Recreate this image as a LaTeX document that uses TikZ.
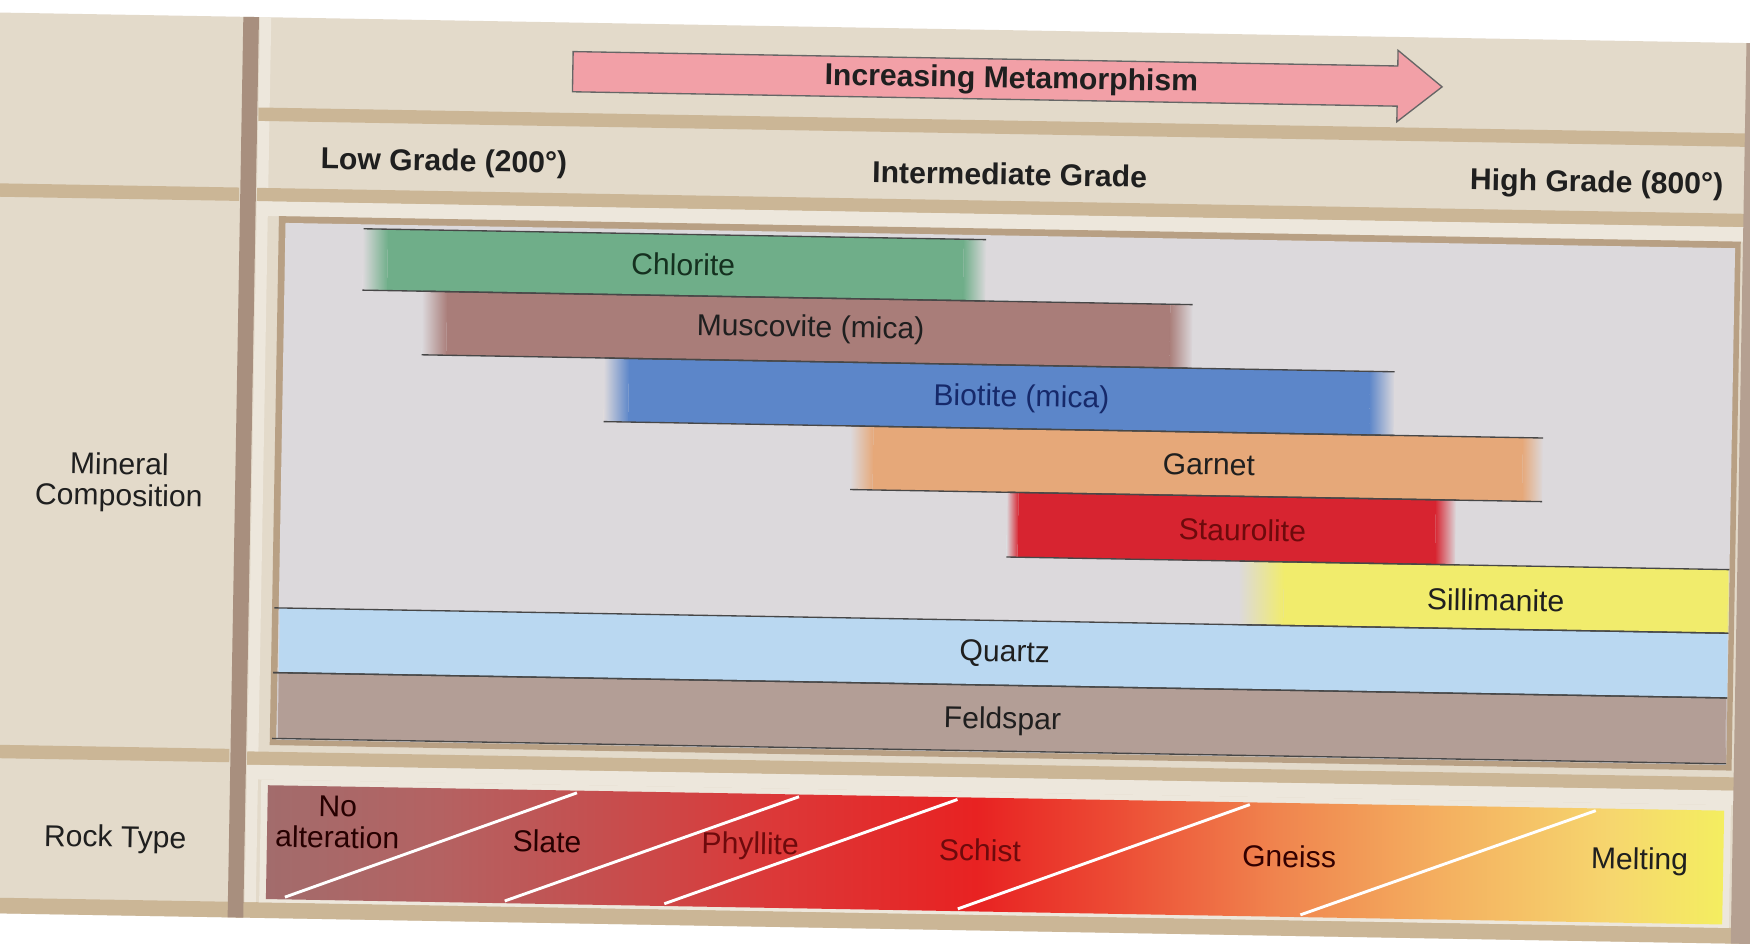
\documentclass[tikz,border=0pt]{standalone}
\usepackage{fontspec}
\setmainfont{Liberation Sans}
\definecolor{paper}{HTML}{E3DACA}
\definecolor{paperlight}{HTML}{EDE7DC}
\definecolor{divtan}{HTML}{CBB696}
\definecolor{vdiv}{HTML}{A88F7E}
\definecolor{panelbg}{HTML}{DCD9DC}
\definecolor{panelframe}{HTML}{B8A084}
\definecolor{chlor}{HTML}{6FAE89}
\definecolor{musc}{HTML}{A97D79}
\definecolor{biot}{HTML}{5C86C9}
\definecolor{garn}{HTML}{E6A879}
\definecolor{staur}{HTML}{D72430}
\definecolor{sill}{HTML}{F1EC6C}
\definecolor{quartz}{HTML}{BAD8F1}
\definecolor{felds}{HTML}{B39E96}
\definecolor{arrowpink}{HTML}{F2A0A7}
\definecolor{darkred}{HTML}{6E0A0C}
\definecolor{navy}{HTML}{16296A}
\definecolor{dkgreen}{HTML}{15301F}
\definecolor{r0}{HTML}{A26C6C}
\definecolor{r1}{HTML}{B46262}
\definecolor{r2}{HTML}{C64E4E}
\definecolor{r3}{HTML}{DC3838}
\definecolor{r4}{HTML}{E82222}
\definecolor{r5}{HTML}{EC4A34}
\definecolor{r6}{HTML}{F0844E}
\definecolor{r7}{HTML}{F4B060}
\definecolor{r8}{HTML}{F6D66E}
\definecolor{r9}{HTML}{F4EE60}
\pgfdeclarehorizontalshading{rockshade}{100bp}{color(0bp)=(r0); color(25bp)=(r0); color(30.95bp)=(r1); color(36.7bp)=(r2); color(42.45bp)=(r3); color(49.35bp)=(r4); color(53.95bp)=(r5); color(59.65bp)=(r6); color(65.4bp)=(r7); color(71.15bp)=(r8); color(75bp)=(r9); color(100bp)=(r9)}
\tikzset{
  lbl/.style={font=\fontsize{13.5}{14}\selectfont, inner sep=0pt, anchor=center, text=black!88},
  hdr/.style={lbl, font=\fontsize{13.5}{14}\selectfont\bfseries},
  barline/.style={draw=black!72, line width=0.6pt},
  whiteline/.style={draw=white, line width=1.3pt},
}
% \mbar{L}{R}{T}{B}{colour}{fade left}{fade right}
\newcommand\mbar[7]{%
  \fill[#5] (#1+#6,#3) rectangle (#2-#7,#4);
  \shade[left color=panelbg, right color=#5] (#1,#3) rectangle (#1+#6,#4);
  \shade[left color=#5, right color=panelbg] (#2-#7,#3) rectangle (#2,#4);
}
\newcommand\mlines[4]{%
  \draw[barline] (#1,#3) -- (#2,#3);
  \draw[barline] (#1,#4) -- (#2,#4);
}
\begin{document}
\begin{tikzpicture}[x=0.5pt, y=-0.5pt]
\useasboundingbox (0,0) rectangle (1568,847);
\fill[white] (0,0) rectangle (1568,847);
\clip (0,0) rectangle (1568,847);
\begin{scope}[rotate around={-1:(784,423)}, transform shape]
  % paper
  \fill[paper] (-40,25) rectangle (1610,832);
  % left column dividers
  \fill[divtan] (-40,178) rectangle (210,190);
  \fill[divtan] (-40,681) rectangle (210,693);
  \fill[divtan] (-40,818) rectangle (1610,832);
  % right region bands
  \fill[paperlight] (226,25) rectangle (236,818);
  \fill[divtan] (226,106) rectangle (1610,118);
  \fill[divtan] (226,178) rectangle (1610,190);
  \fill[paperlight] (226,190) rectangle (1610,203);
  \fill[divtan] (226,683) rectangle (1610,695);
  \fill[paperlight] (226,695) rectangle (1610,708);
  % vertical divider and right edge
  \fill[vdiv] (211,25) rectangle (225,832);
  \fill[vdiv!85] (1558,25) rectangle (1610,832);

  % arrow
  \draw[fill=arrowpink, draw=black!60, line width=0.6pt]
    (507,51) -- (1246,51) -- (1246,37) -- (1286,69) -- (1246,101) -- (1246,87) -- (507,87) -- cycle;
  \node[hdr] (incm) at (900,70) {Increasing Metamorphism};

  % grade labels
  \node[hdr] (low) at (393,153) {Low Grade (200°)};
  \node[hdr] (inter) at (900,154) {Intermediate Grade};
  \node[hdr] (high) at (1426,154) {High Grade (800°)};

  % left labels
  \node[lbl, align=center] (minc) at (107,444) {Mineral\\Composition};
  \node[lbl] (rockt) at (109,764) {Rock Type};

  % mineral panel
  \fill[panelframe] (246,203) rectangle (1556,677);
  \fill[panelbg] (252,209) rectangle (1551,672);

  \mbar{322}{880}{213}{268}{chlor}{22}{20}
  \mbar{376}{1066}{268}{325}{musc}{22}{20}
  \mbar{540}{1248}{325}{382}{biot}{22}{22}
  \mbar{762}{1382}{382}{439}{garn}{20}{18}
  \mbar{903}{1305}{439}{497}{staur}{10}{18}
  \mbar{1112}{1551}{497}{554}{sill}{40}{1}
  \mbar{252}{1551}{554}{612}{quartz}{1}{1}
  \mbar{252}{1551}{612}{671}{felds}{1}{1}

  \mlines{322}{880}{213}{268}
  \mlines{376}{1066}{268}{325}
  \mlines{540}{1248}{325}{382}
  \mlines{762}{1382}{382}{439}
  \mlines{903}{1305}{439}{497}
  \mlines{1112}{1551}{497}{554}
  \mlines{248}{1551}{554}{612}
  \mlines{248}{1551}{612}{671}

  \node[lbl, text=dkgreen] (chl) at (609,240) {Chlorite};
  \node[lbl] (mus) at (724,296) {Muscovite (mica)};
  \node[lbl, text=navy] (bio) at (914,355) {Biotite (mica)};
  \node[lbl] (gar) at (1083,411) {Garnet};
  \node[lbl, text=darkred] (sta) at (1114,469) {Staurolite};
  \node[lbl] (sil) at (1342,528) {Sillimanite};
  \node[lbl] (qua) at (903,584) {Quartz};
  \node[lbl] (fel) at (902,644) {Feldspar};

  % rock type bar
  \fill[paperlight] (239,708) rectangle (1556,818);
  \shade[shading=rockshade] (245,713) rectangle (1550,815);
  \draw[whiteline] (262,813) -- (522,715);
  \draw[whiteline] (459,813) -- (721,715);
  \draw[whiteline] (602,813) -- (863,715);
  \draw[whiteline] (865,813) -- (1125,715);
  \draw[whiteline] (1172,813) -- (1435,715);

  \node[lbl, align=center, text=black!85!red] (noalt) at (308,745) {No\\alteration};
  \node[lbl, text=black!85!red] (sla) at (496,759) {Slate};
  \node[lbl, text=darkred] (phy) at (678,760) {Phyllite};
  \node[lbl, text=darkred] (sch) at (884,760) {Schist};
  \node[lbl, text=black!80!red] (gne) at (1161,761) {Gneiss};
  \node[lbl] (mel) at (1475,760) {Melting};
\end{scope}
\end{tikzpicture}
\end{document}
